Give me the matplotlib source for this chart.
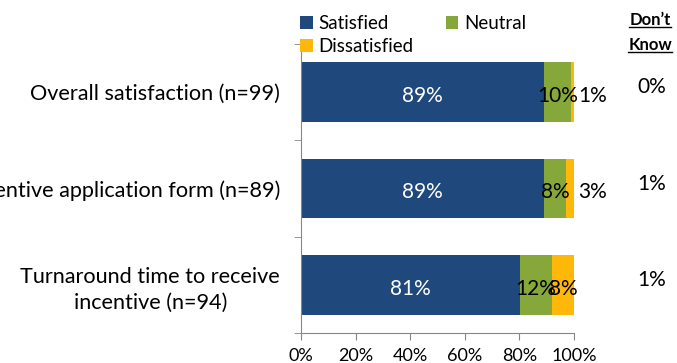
"""Satisfaction stacked bar chart with Don't Know column."""
import matplotlib
matplotlib.use("Agg")
import matplotlib.pyplot as plt
from matplotlib.lines import Line2D
from matplotlib import transforms
from matplotlib.ticker import FuncFormatter, FixedLocator

plt.rcParams["font.family"] = ["Lato", "DejaVu Sans"]

categories = [
    "Overall satisfaction (n=99)",
    "Incentive application form (n=89)",
    "Turnaround time to receive\nincentive (n=94)",
]
satisfied = [89, 89, 81]
neutral = [10, 8, 12]
dissatisfied = [1, 3, 8]
dont_know = ["0%", "1%", "1%"]

series = [("Satisfied", satisfied, "#1F497D", "white"),
          ("Neutral", neutral, "#86A83A", "black"),
          ("Dissatisfied", dissatisfied, "#FFB80A", "black")]

W, H, DPI = 677, 363, 100
FS = 15
fig = plt.figure(figsize=(W / DPI, H / DPI), dpi=DPI)
ax = fig.add_axes([301 / W, 30 / H, 273 / W, 289 / H])

ypos = list(range(len(categories)))
left = [0.0] * len(categories)
totals = [s + n + d for s, n, d in zip(satisfied, neutral, dissatisfied)]
handles = {}
for name, vals, color, tcol in series:
    widths = [100.0 * v / t for v, t in zip(vals, totals)]
    bars = ax.barh(ypos, widths, left=left, height=0.62, color=color,
                   edgecolor="none", label=name)
    handles[name] = bars
    for y, l, w, v in zip(ypos, left, widths, vals):
        if v < 5:
            ax.annotate(f"{v}%", (l + w, y + 0.04), xytext=(3, 0),
                        textcoords="offset points", ha="left", va="center",
                        fontsize=FS, color=tcol)
        else:
            ax.text(l + w / 2, y + 0.04, f"{v}%", ha="center", va="center",
                    fontsize=FS, color=tcol)
    left = [l + w for l, w in zip(left, widths)]

ax.set_xlim(0, 100)
ax.set_ylim(len(categories) - 0.5, -0.5)
ax.xaxis.set_major_locator(FixedLocator([0, 20, 40, 60, 80, 100]))
ax.xaxis.set_major_formatter(FuncFormatter(lambda v, p: f"{v:.0f}%"))
ax.set_yticks(ypos)
ax.set_yticklabels(categories, fontsize=15.6)
ax.set_yticks([-0.5, 0.5, 1.5, 2.5], minor=True)
ax.tick_params(axis="y", which="major", length=0, pad=15)
ax.tick_params(axis="y", which="minor", length=5, color="#868686")
ax.tick_params(axis="x", length=5, color="#868686", labelsize=13, pad=6)
for side in ("top", "right"):
    ax.spines[side].set_visible(False)
for side in ("left", "bottom"):
    ax.spines[side].set_color("#868686")
for lab in ax.get_yticklabels():
    lab.set_multialignment("center")
    lab.set_linespacing(1.4)

order = ["Satisfied", "Dissatisfied", "Neutral"]
fig.legend([handles[k] for k in order], order, ncol=2, loc="upper left",
           bbox_to_anchor=(287 / W, 1 - 2 / H), frameon=False, fontsize=13.5,
           handlelength=0.68, handleheight=0.68, handletextpad=0.3,
           columnspacing=1.7, labelspacing=0.33, borderpad=0.2)

# Don't Know column
hdr = []
for txt, ypx in (("Don\u2019t", 20), ("Know", 45)):
    hdr.append(fig.text(650 / W, 1 - ypx / H, txt, ha="center", va="center",
                        fontsize=12, fontweight="bold"))
trans = transforms.blended_transform_factory(fig.transFigure, ax.transData)
for y, v in zip(ypos, dont_know):
    ax.text(652 / W, y - 0.05, v, transform=trans, ha="center", va="center",
            fontsize=FS, clip_on=False)

fig.canvas.draw()
r = fig.canvas.get_renderer()
for t in hdr:
    bb = t.get_window_extent(r)
    yb = (bb.y0 + 1) / H
    fig.add_artist(Line2D([bb.x0 / W, bb.x1 / W], [yb, yb],
                          transform=fig.transFigure, color="black", lw=1))

fig.savefig("out.png", dpi=DPI, facecolor="white")
